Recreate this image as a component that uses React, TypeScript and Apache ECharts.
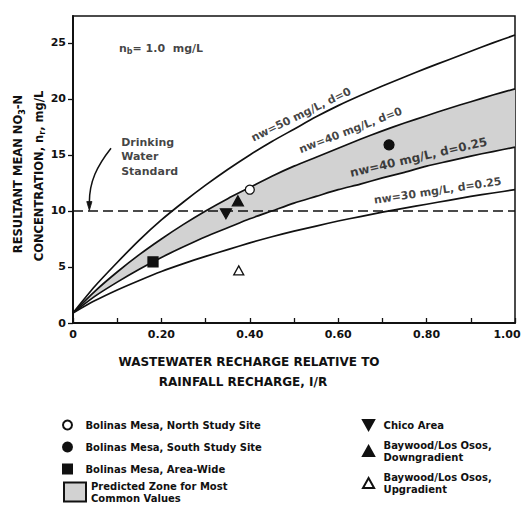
import React, { useEffect, useRef } from 'react';
import * as echarts from 'echarts';

// ---- data ----
const X_VALUES = [0, 0.05, 0.1, 0.15, 0.2, 0.25, 0.3, 0.35, 0.4, 0.45, 0.5, 0.55, 0.6, 0.65, 0.7, 0.75, 0.8, 0.85, 0.9, 0.95, 1.0];
const NW50_D0 = [0.9, 3.3, 5.4, 7.4, 9.2, 10.8, 12.3, 13.7, 15.0, 16.2, 17.3, 18.4, 19.4, 20.3, 21.15, 21.95, 22.75, 23.5, 24.25, 25.0, 25.7];
const NW40_D0 = [0.9, 2.85, 4.55, 6.1, 7.5, 8.8, 10.0, 11.1, 12.1, 13.1, 14.0, 14.8, 15.6, 16.4, 17.15, 17.85, 18.5, 19.15, 19.75, 20.35, 20.9];
const NW40_D025 = [0.9, 2.4, 3.65, 4.8, 5.85, 6.8, 7.7, 8.5, 9.3, 10.0, 10.7, 11.3, 11.9, 12.4, 12.95, 13.45, 14.0, 14.45, 14.9, 15.3, 15.7];
const NW30_D025 = [0.9, 2.0, 2.95, 3.8, 4.6, 5.3, 5.95, 6.55, 7.15, 7.7, 8.2, 8.65, 9.1, 9.5, 9.9, 10.25, 10.6, 10.95, 11.3, 11.6, 11.9];

const NORTH_SITE = [[0.40, 11.9]];
const SOUTH_SITE = [[0.715, 15.9]];
const AREA_WIDE = [[0.181, 5.45]];
const CHICO = [[0.346, 9.75]];
const BAYWOOD_DOWN = [[0.373, 10.9]];
const BAYWOOD_UP = [[0.375, 4.7]];

const STANDARD_LEVEL = 10;

const X_TICKS = [0, 0.1, 0.2, 0.3, 0.4, 0.5, 0.6, 0.7, 0.8, 0.9, 1.0];
const X_LABELS = [0, 0.2, 0.4, 0.6, 0.8, 1.0];
const Y_TICKS = [0, 5, 10, 15, 20, 25];

const N_NORTH = 'Bolinas Mesa, North Study Site';
const N_SOUTH = 'Bolinas Mesa, South Study Site';
const N_AREA = 'Bolinas Mesa, Area-Wide';
const N_ZONE = 'Predicted Zone for Most\nCommon Values';
const N_CHICO = 'Chico Area';
const N_BAY_DOWN = 'Baywood/Los Osos,\nDowngradient';
const N_BAY_UP = 'Baywood/Los Osos,\nUpgradient';

const CURVE_LABELS = [
  { text: 'nw=50 mg/L, d=0', at: [0.516, 18.6], angle: 26, size: 11 },
  { text: 'nw=40 mg/L, d=0', at: [0.628, 17.2], angle: 21, size: 11 },
  { text: 'nw=40 mg/L, d=0.25', at: [0.782, 14.8], angle: 13, size: 12 },
  { text: 'nw=30 mg/L, d=0.25', at: [0.825, 11.8], angle: 8.5, size: 11 },
];

// annotation anchors (data coordinates)
const NB_AT = [0.104, 24.5];
const STD_TEXT_AT = [0.109, 14.85];
const ARROW_START = [0.086, 15.6];
const ARROW_C1 = [0.054, 14.0];
const ARROW_C2 = [0.037, 12.6];
const ARROW_END = [0.037, 10.75];
const ARROW_TIP = [0.037, 10.05];

const FONT = "'DejaVu Sans', 'Liberation Sans', sans-serif";
const INK = '#111';
const ZONE_FILL = '#d2d2d2';

const SYM_SQUARE = 'path://M0,0H10V10H0Z';
const SYM_UP = 'path://M10,0L20,18L0,18Z';
const SYM_DOWN = 'path://M0,0L20,0L10,18Z';

const xy = (xs: number[], ys: number[]) => xs.map((x, i) => [x, ys[i]]);

export default function App() {
  const ref = useRef<HTMLDivElement>(null);
  useEffect(() => {
    if (!ref.current) return;
    const chart = echarts.init(ref.current, null, { renderer: 'svg' });

    const curve = (name: string, ys: number[]) => ({
      type: 'line',
      name,
      data: xy(X_VALUES, ys),
      symbol: 'none',
      smooth: 0.25,
      silent: true,
      z: 3,
      lineStyle: { color: INK, width: 1.7, join: 'round' },
    });

    const scatter = (name: string, data: number[][], symbol: string, size: number, fill: string) => ({
      type: 'scatter',
      name,
      data,
      symbol,
      symbolSize: size,
      symbolKeepAspect: true,
      z: 6,
      itemStyle: { color: fill, borderColor: INK, borderWidth: 1.3, opacity: 1 },
    });

    const legendText = { color: INK, fontFamily: FONT, fontWeight: 'bold', fontSize: 10, lineHeight: 12 };
    const sub = { fontFamily: FONT, fontWeight: 'bold', fontSize: 8, lineHeight: 8, verticalAlign: 'bottom', color: INK };

    const option: any = {
      animation: false,
      backgroundColor: '#fff',
      grid: { left: 73, right: 10, top: 16, bottom: 183, show: true, borderColor: INK, borderWidth: 1.5, backgroundColor: 'transparent' },
      xAxis: {
        type: 'value',
        min: 0,
        max: 1,
        axisLine: { show: true, onZero: false, lineStyle: { color: INK, width: 2 } },
        axisTick: { show: true, inside: true, length: 5, customValues: X_TICKS, lineStyle: { color: INK, width: 1.3 } },
        axisLabel: {
          customValues: X_LABELS,
          margin: 6,
          color: INK,
          fontFamily: FONT,
          fontWeight: 'bold',
          fontSize: 11,
          formatter: (v: number) => (v === 0 ? '0' : v >= 0.999 ? '{r|1.00}' : v.toFixed(2)),
          rich: { r: { padding: [0, 16, 0, 0], color: INK, fontFamily: FONT, fontWeight: 'bold', fontSize: 11 } },
        },
        splitLine: { show: false },
      },
      yAxis: {
        type: 'value',
        min: 0,
        max: 27.4,
        axisLine: { show: true, onZero: false, lineStyle: { color: INK, width: 2 } },
        axisTick: { show: true, inside: false, length: 5, customValues: Y_TICKS, lineStyle: { color: INK, width: 1.3 } },
        axisLabel: { customValues: Y_TICKS, margin: 7, color: INK, fontFamily: FONT, fontWeight: 'bold', fontSize: 11 },
        splitLine: { show: false },
      },
      legend: [
        {
          orient: 'vertical', left: 62, top: 419, padding: 0, itemWidth: 26, itemHeight: 9, itemGap: 10,
          selectedMode: false, textStyle: legendText, data: [N_NORTH, N_SOUTH, N_AREA],
        },
        {
          orient: 'vertical', left: 63, top: 480, padding: 0, itemWidth: 22, itemHeight: 19, itemGap: 0,
          selectedMode: false, textStyle: legendText, icon: 'rect', data: [N_ZONE],
        },
        {
          orient: 'vertical', left: 362, top: 419, padding: 0, itemWidth: 20, itemHeight: 10, itemGap: 8,
          selectedMode: false, textStyle: legendText, data: [N_CHICO, N_BAY_DOWN, N_BAY_UP],
        },
      ],
      graphic: [
        {
          type: 'text', x: 18, y: 174, rotation: Math.PI / 2, silent: true,
          style: {
            text: '{a|RESULTANT MEAN NO}{s|3}{a|-N}', align: 'center', verticalAlign: 'middle',
            rich: { a: { fontFamily: FONT, fontWeight: 'bold', fontSize: 11.5, lineHeight: 16, fill: INK }, s: sub },
          },
        },
        {
          type: 'text', x: 38.5, y: 176, rotation: Math.PI / 2, silent: true,
          style: {
            text: '{a|CONCENTRATION, n}{s|r}{a|, mg/L}', align: 'center', verticalAlign: 'middle',
            rich: { a: { fontFamily: FONT, fontWeight: 'bold', fontSize: 11.5, lineHeight: 16, fill: INK }, s: sub },
          },
        },
        {
          type: 'text', x: 249, y: 362, silent: true,
          style: { text: 'WASTEWATER RECHARGE RELATIVE TO', align: 'center', verticalAlign: 'middle', fontFamily: FONT, fontWeight: 'bold', fontSize: 12, fill: INK },
        },
        {
          type: 'text', x: 243, y: 382, silent: true,
          style: { text: 'RAINFALL RECHARGE, I/R', align: 'center', verticalAlign: 'middle', fontFamily: FONT, fontWeight: 'bold', fontSize: 12, fill: INK },
        },
      ],
      series: [
        {
          type: 'custom',
          name: N_ZONE,
          coordinateSystem: 'cartesian2d',
          data: [[0, 0]],
          encode: { x: 0, y: 1 },
          silent: true,
          z: 1,
          itemStyle: { color: ZONE_FILL, borderColor: INK, borderWidth: 1 },
          renderItem: (_p: any, api: any) => {
            const pts: number[][] = [];
            X_VALUES.forEach((x, i) => pts.push(api.coord([x, NW40_D0[i]])));
            for (let i = X_VALUES.length - 1; i >= 0; i--) pts.push(api.coord([X_VALUES[i], NW40_D025[i]]));
            return { type: 'polygon', shape: { points: pts }, style: { fill: ZONE_FILL, stroke: null } };
          },
        },
        curve('nw=50, d=0', NW50_D0),
        curve('nw=40, d=0', NW40_D0),
        curve('nw=40, d=0.25', NW40_D025),
        curve('nw=30, d=0.25', NW30_D025),
        {
          type: 'line',
          name: 'Drinking Water Standard',
          data: [[0, STANDARD_LEVEL], [1, STANDARD_LEVEL]],
          symbol: 'none',
          silent: true,
          z: 2,
          lineStyle: { color: INK, width: 1.5, type: [10, 5] },
        },
        {
          type: 'custom',
          name: 'arrow',
          coordinateSystem: 'cartesian2d',
          data: [[0, 0]],
          encode: { x: 0, y: 1 },
          silent: true,
          z: 4,
          renderItem: (_p: any, api: any) => {
            const s = api.coord(ARROW_START);
            const c1 = api.coord(ARROW_C1);
            const c2 = api.coord(ARROW_C2);
            const e = api.coord(ARROW_END);
            const t = api.coord(ARROW_TIP);
            return {
              type: 'group',
              children: [
                {
                  type: 'bezierCurve',
                  shape: { x1: s[0], y1: s[1], cpx1: c1[0], cpy1: c1[1], cpx2: c2[0], cpy2: c2[1], x2: e[0], y2: e[1] },
                  style: { stroke: INK, lineWidth: 1.5, fill: null },
                },
                {
                  type: 'polygon',
                  shape: { points: [[e[0] - 2.6, e[1] - 1], [e[0] + 2.6, e[1] - 1], [t[0], t[1]]] },
                  style: { fill: INK, stroke: INK, lineWidth: 0.8 },
                },
              ],
            };
          },
        },
        scatter(N_NORTH, NORTH_SITE, 'circle', 9, '#fff'),
        scatter(N_SOUTH, SOUTH_SITE, 'circle', 10, INK),
        scatter(N_AREA, AREA_WIDE, SYM_SQUARE, 10, INK),
        scatter(N_CHICO, CHICO, SYM_DOWN, 11, INK),
        scatter(N_BAY_DOWN, BAYWOOD_DOWN, SYM_UP, 11, INK),
        scatter(N_BAY_UP, BAYWOOD_UP, SYM_UP, 10, '#fff'),
        {
          type: 'scatter',
          name: 'annotations',
          symbolSize: 1,
          silent: true,
          z: 7,
          itemStyle: { color: 'transparent' },
          data: [
            ...CURVE_LABELS.map((c) => ({
              value: c.at,
              label: {
                show: true, position: 'inside', rotate: c.angle, formatter: c.text,
                color: INK, fontFamily: FONT, fontWeight: 'bold', fontSize: c.size,
              },
            })),
            {
              value: NB_AT,
              label: {
                show: true, position: 'inside', align: 'left', formatter: '{a|n}{s|b}{a|= 1.0  mg/L}',
                rich: { a: { fontFamily: FONT, fontWeight: 'bold', fontSize: 11, lineHeight: 15, color: INK }, s: sub },
              },
            },
            {
              value: STD_TEXT_AT,
              label: {
                show: true, position: 'inside', align: 'left', formatter: 'Drinking\nWater\nStandard',
                color: INK, fontFamily: FONT, fontWeight: 'bold', fontSize: 11, lineHeight: 14.5,
              },
            },
          ],
        },
      ],
    };

    chart.setOption(option);
    return () => chart.dispose();
  }, []);

  return <div ref={ref} style={{ position: 'fixed', left: 0, top: 0, width: 525, height: 506, background: '#fff' }} />;
}
